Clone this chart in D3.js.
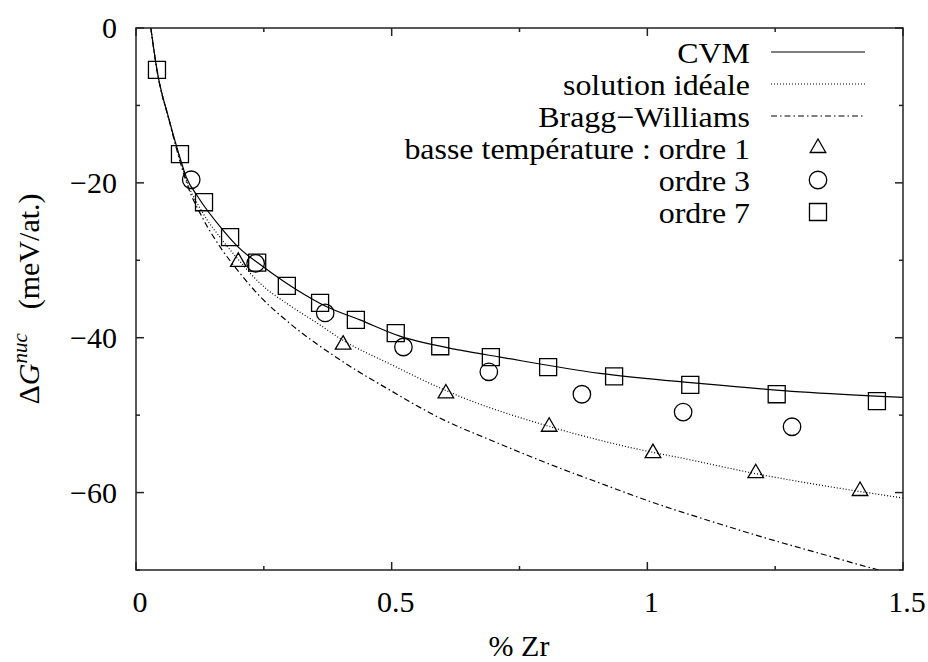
<!DOCTYPE html>
<html>
<head>
<meta charset="utf-8">
<script src="https://cdn.jsdelivr.net/npm/d3@7"></script>
<style>
  html, body { margin: 0; padding: 0; background: #fff; }
  svg { display: block; }
</style>
</head>
<body>
<svg id="chart" width="928" height="662"></svg>
<script>
// ---- Data ----
const cvmX   = [0.029, 0.041, 0.065, 0.083, 0.098, 0.121, 0.17, 0.2, 0.25, 0.314, 0.373, 0.438, 0.516, 0.634, 0.712, 0.907, 1.103, 1.299, 1.5];
const cvmY   = [0, -5.4, -11.9, -16.1, -19.2, -21.8, -26.1, -28.3, -30.9, -33.8, -36.0, -37.7, -39.8, -41.6, -42.5, -44.6, -45.9, -47.0, -47.7];

const idealX = [0.029, 0.041, 0.065, 0.083, 0.1, 0.13, 0.17, 0.2, 0.243, 0.3, 0.354, 0.404, 0.5, 0.595, 0.634, 0.8, 1.025, 1.064, 1.2, 1.4, 1.5];
const idealY = [0, -5.4, -11.9, -16.3, -19.9, -23.8, -27.5, -29.9, -33.0, -35.8, -38.1, -40.3, -43.5, -46.5, -47.6, -51.3, -55.0, -55.5, -57.4, -59.7, -60.7];

const bwX    = [0.029, 0.041, 0.065, 0.083, 0.1, 0.13, 0.17, 0.2, 0.243, 0.3, 0.4, 0.5, 0.595, 0.7, 0.8, 0.9, 1.025, 1.1, 1.233, 1.35, 1.441, 1.5];
const bwY    = [0, -5.5, -12.0, -16.5, -20.2, -24.5, -28.8, -31.4, -34.7, -38.1, -42.9, -46.9, -50.4, -53.4, -56.1, -58.6, -61.6, -63.2, -65.9, -68.1, -69.8, -70.8];

const ordre1X = [0.2, 0.405, 0.606, 0.808, 1.011, 1.212, 1.416];
const ordre1Y = [-30.2, -40.9, -47.2, -51.5, -54.9, -57.5, -59.8];

const ordre3X = [0.108, 0.234, 0.37, 0.523, 0.69, 0.872, 1.07, 1.283];
const ordre3Y = [-19.6, -30.4, -36.8, -41.2, -44.4, -47.3, -49.6, -51.5];

const ordre7X = [0.041, 0.086, 0.133, 0.184, 0.237, 0.295, 0.36, 0.43, 0.508, 0.595, 0.694, 0.806, 0.935, 1.084, 1.253, 1.449];
const ordre7Y = [-5.4, -16.3, -22.5, -27.0, -30.3, -33.3, -35.5, -37.7, -39.4, -41.1, -42.5, -43.8, -45.0, -46.1, -47.3, -48.2];

const xTicks = [0, 0.25, 0.5, 0.75, 1, 1.25, 1.5];
const xTickLabels = ["0", "", "0.5", "", "1", "", "1.5"];
const yTicks = [0, -10, -20, -30, -40, -50, -60, -70];
const yTickLabels = ["0", "", "\u221220", "", "\u221240", "", "\u221260", ""];

const legendLabels = ["CVM", "solution idéale", "Bragg\u2212Williams", "basse température : ordre 1", "ordre 3", "ordre 7"];
const xTitle = "% Zr";

// ---- Layout ----
const FONT = "'Liberation Serif', 'Times New Roman', Times, 'Liberation Sans', Arial, sans-serif";
const svg = d3.select("#chart").attr("font-family", FONT).style("font-family", FONT);
const L = 136, R = 903, T = 28, B = 570;
const x = d3.scaleLinear().domain([0, 1.5]).range([L, R]);
const y = d3.scaleLinear().domain([-70, 0]).range([B, T]);
const FS = 30;      // ticks and titles
const LFS = 28;     // legend

function txt(sel) {
  return sel.append("text").attr("font-family", FONT).style("font-family", FONT).attr("fill", "#000");
}

const defs = svg.append("defs");
defs.append("clipPath").attr("id", "plotclip")
  .append("rect").attr("x", L).attr("y", T).attr("width", R - L).attr("height", B - T);

// ---- Curves ----
const line = d3.line().x(d => x(d[0])).y(d => y(d[1])).curve(d3.curveMonotoneX);
const zip = (a, b) => a.map((v, i) => [v, b[i]]);

const curves = [
  { pts: zip(cvmX, cvmY), dash: null },
  { pts: zip(idealX, idealY), dash: "1,2" },
  { pts: zip(bwX, bwY), dash: "6,3,1.5,3" }
];
const gCurves = svg.append("g").attr("clip-path", "url(#plotclip)");
gCurves.selectAll("path").data(curves).join("path")
  .attr("d", d => line(d.pts))
  .attr("fill", "none")
  .attr("stroke", "#000")
  .attr("stroke-width", 1.2)
  .attr("stroke-dasharray", d => d.dash);

// ---- Markers ----
const sym = {
  tri: d3.symbol().type(d3.symbolTriangle).size(105),
  circ: d3.symbol().type(d3.symbolCircle).size(240),
  sq: d3.symbol().type(d3.symbolSquare).size(290)
};
function markers(xs, ys, type) {
  svg.append("g").selectAll("path").data(zip(xs, ys)).join("path")
    .attr("d", sym[type]())
    .attr("transform", d => `translate(${x(d[0])},${y(d[1])})`)
    .attr("fill", "none")
    .attr("stroke", "#000")
    .attr("stroke-width", 1.3);
}
markers(ordre1X, ordre1Y, "tri");
markers(ordre3X, ordre3Y, "circ");
markers(ordre7X, ordre7Y, "sq");

// ---- Frame and ticks ----
const axisG = svg.append("g").attr("stroke", "#222").attr("stroke-width", 1.5);
axisG.append("rect").attr("x", L).attr("y", T).attr("width", R - L).attr("height", B - T).attr("fill", "none");
const tickLen = (lab) => lab ? 8 : 4;
xTicks.forEach((t, i) => {
  const len = tickLen(xTickLabels[i]);
  axisG.append("line").attr("x1", x(t)).attr("x2", x(t)).attr("y1", B).attr("y2", B - len);
  axisG.append("line").attr("x1", x(t)).attr("x2", x(t)).attr("y1", T).attr("y2", T + len);
});
yTicks.forEach((t, i) => {
  const len = tickLen(yTickLabels[i]);
  axisG.append("line").attr("y1", y(t)).attr("y2", y(t)).attr("x1", L).attr("x2", L + len);
  axisG.append("line").attr("y1", y(t)).attr("y2", y(t)).attr("x1", R).attr("x2", R - len);
});

// tick labels
const xl = svg.append("g");
xTicks.forEach((t, i) => {
  if (!xTickLabels[i]) return;
  txt(xl).attr("x", x(t) + 4).attr("y", 612)
    .attr("text-anchor", "middle").attr("font-size", FS).text(xTickLabels[i]);
});
const yl = svg.append("g");
yTicks.forEach((t, i) => {
  if (!yTickLabels[i]) return;
  txt(yl).attr("x", 117).attr("y", y(t) + 10)
    .attr("text-anchor", "end").attr("font-size", FS).text(yTickLabels[i]);
});

// axis titles
txt(svg).attr("x", 519).attr("y", 656).attr("text-anchor", "middle").attr("font-size", FS).text(xTitle);

const yt = txt(svg)
  .attr("transform", "translate(39,299) rotate(-90)")
  .attr("text-anchor", "middle").attr("font-size", FS);
yt.append("tspan").text("\u0394");
yt.append("tspan").attr("font-style", "italic").text("G");
yt.append("tspan").attr("font-style", "italic").attr("font-size", 21).attr("dy", -12).text("nuc");
yt.append("tspan").attr("dy", 12).attr("dx", 24).text("(meV/at.)");

// ---- Legend ----
const legX = 750, legY0 = 63, legDY = 32;
const legG = svg.append("g");
legendLabels.forEach((lab, i) => {
  txt(legG.append("g").attr("transform", `translate(${legX},${legY0 + i * legDY}) scale(1.14,1.04)`))
    .attr("x", 0).attr("y", 0)
    .attr("text-anchor", "end").attr("font-size", LFS).text(lab);
});
curves.forEach((c, i) => {
  legG.append("line")
    .attr("x1", 771).attr("x2", 865)
    .attr("y1", legY0 + i * legDY - 11).attr("y2", legY0 + i * legDY - 11)
    .attr("stroke", "#000").attr("stroke-width", 1.2)
    .attr("stroke-dasharray", c.dash);
});
["tri", "circ", "sq"].forEach((s, j) => {
  const i = j + 3;
  legG.append("path").attr("d", sym[s]())
    .attr("transform", `translate(818,${legY0 + i * legDY - 11})`)
    .attr("fill", "none").attr("stroke", "#000").attr("stroke-width", 1.3);
});
</script>
</body>
</html>
